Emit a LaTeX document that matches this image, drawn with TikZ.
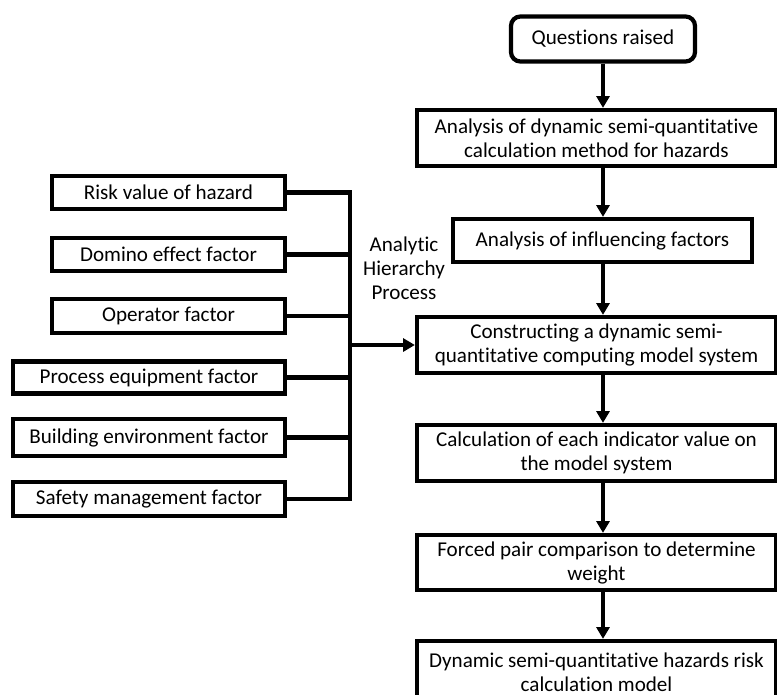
\documentclass[tikz,border=0pt]{standalone}
\usepackage{fontspec}
\setmainfont[Ligatures=NoCommon]{Carlito}
\usetikzlibrary{arrows.meta,positioning}

\begin{document}
\begin{tikzpicture}[x=0.03cm,y=-0.03cm,>={Triangle[length=10pt,width=11pt]},line width=3.6pt,
		stepbox/.style={draw,rectangle,align=center,inner sep=0pt,font=\fontsize{18pt}{20.5pt}\selectfont},
		factor/.style={stepbox,minimum height=1cm}]
		\useasboundingbox (0,0) rectangle (777,695);
		% main flow
		\node[stepbox,rounded corners=8pt,minimum width=5.52cm,minimum height=1.35cm] (s_0) at (603,39) {Questions raised};
		\node[stepbox,minimum width=10.77cm,minimum height=1.68cm] (s_1) at (596.5,138) {Analysis of dynamic semi-quantitative\\calculation method for hazards};
		\node[stepbox,minimum width=8.97cm,minimum height=1.29cm] (s_2) at (602.5,240.5) {Analysis of influencing factors};
		\node[stepbox,minimum width=10.77cm,minimum height=1.68cm] (s_3) at (596.5,345) {Constructing a dynamic semi-\\quantitative computing model system};
		\node[stepbox,minimum width=10.77cm,minimum height=1.68cm] (s_4) at (596.5,453) {Calculation of each indicator value on\\the model system};
		\node[stepbox,minimum width=10.77cm,minimum height=1.65cm] (s_5) at (596.5,562.5) {Forced pair comparison to determine\\weight};
		\node[stepbox,minimum width=10.77cm,minimum height=1.86cm] (s_6) at (596.5,672) {Dynamic semi-quantitative hazards risk\\calculation model};
		\foreach \i [count=\j from 1] in {0,...,5}
			\draw[->] (s_\i.south -| s_0) -- (s_\j.north -| s_0);
		% factors
		\node[factor,minimum width=6.99cm] (f_1) at (168.5,192.5) {Risk value of hazard};
		\node[factor,minimum width=6.99cm] (f_2) at (168.5,254.5) {Domino effect factor};
		\node[factor,minimum width=6.99cm] (f_3) at (168.5,316) {Operator factor};
		\node[factor,minimum width=8.16cm,minimum height=0.96cm] (f_4) at (149,377.5) {Process equipment factor};
		\node[factor,minimum width=8.16cm,minimum height=1.11cm] (f_5) at (149,437.5) {Building environment factor};
		\node[factor,minimum width=8.16cm] (f_6) at (149,499) {Safety management factor};
		\coordinate (bus) at (350,345);
		\draw (f_1.east) -| (bus) |- (f_6.east);
		\foreach \i in {2,...,5}
			\draw (f_\i.east) -- (f_\i.east -| bus);
		\draw[->] (bus) -- (s_3.west);
		\node[align=center,font=\fontsize{18pt}{20.5pt}\selectfont] (ahp) at (404,268) {Analytic\\Hierarchy\\Process};
	\end{tikzpicture}
\end{document}
